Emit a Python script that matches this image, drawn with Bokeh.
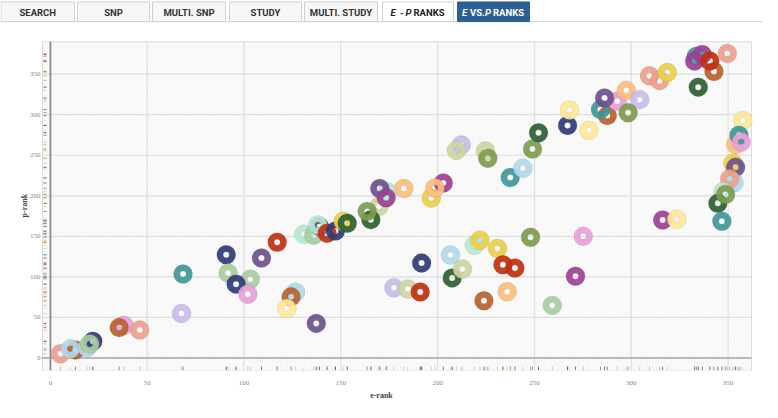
from bokeh.plotting import figure
from bokeh.models import FixedTicker, ColumnDataSource, Range1d
from bokeh.embed import file_html
from bokeh.resources import INLINE
from bokeh.core.properties import value
import math

# ---------------- data ----------------
palette = {
    "navy": "#2f3a7a", "teal": "#3d9898", "lavender": "#c8bce8", "lightgreen": "#a8cc9e",
    "pink": "#e8a0da", "salmon": "#eda08c", "brown": "#b9612b", "lightblue": "#afd8ec",
    "lightyellow": "#fde992", "gold": "#ebcf44", "purple": "#6e4f8e", "magenta": "#9c3f94",
    "red": "#c0300e", "darkgreen": "#2d5f30", "olive": "#7d9c4e", "khaki": "#cdd5a0",
    "mint": "#b4e8d0", "peach": "#fbbd7e",
}

e_rank = [5.2, 12.9, 10.3, 19, 21.9, 20.3, 37.9, 35.5, 46.1, 68.5, 67.7,
          90.8, 109, 103.2, 91.8, 95.9, 101.9, 117.1, 126.6, 124.3, 122.1, 137.3,
          130.9, 136, 139, 138.1, 142.9, 147.2, 151.2, 153.3, 169.6, 165.5, 163.6,
          173.9, 170.1, 173.4, 182.5, 177.4, 184.6, 191, 191.7, 196.7, 202.9, 198.6,
          206.6, 207.5, 212.8, 212.2, 209.7, 224.7, 225.9, 219, 221.8, 230.9, 233.7,
          239.9, 235.9, 223.9, 237.5, 244, 249, 252.1, 248, 259.2, 267.1, 268.1,
          278.1, 271.2, 275.2, 287.6, 284.1, 292.8, 286.2, 297.4, 304.4, 298.4,
          309.4, 314.6, 318.6, 316.2, 323.5, 333.6, 336.7, 332.7, 342.7, 340.6,
          349.6, 334.6, 357.6, 353.9, 355.6, 356.8, 352.5, 353.9, 353, 350.8,
          347.4, 344.7, 348.7, 346.8]
p_rank = [5.2, 10, 11.3, 13, 20.6, 17.3, 40.3, 37.5, 34.6, 103.6, 54.8,
          127.4, 123.4, 97.2, 104.8, 91.1, 78.6, 142.8, 81, 75.4, 61.2, 42.7,
          152.5, 151.6, 162, 164.1, 153.7, 156.5, 168.6, 166.1, 186.7, 170.6, 180.7,
          204.9, 208.9, 197.6, 208.9, 86.6, 85, 81.5, 117, 197.2, 215.8, 209.7,
          127, 98.8, 109.6, 262.6, 256, 255.3, 246.4, 139, 145.2, 135, 115,
          110.9, 81.8, 70.5, 222.5, 234, 257.7, 277.8, 148.8, 64.9, 286.8, 305.7,
          280.7, 100.8, 150, 298.9, 306.5, 316.6, 320.7, 329.9, 318.6, 302.5,
          348, 342, 352.1, 170.1, 171, 372.2, 374.3, 366.2, 353.3, 366.2,
          375.5, 334, 292.8, 263.3, 274.7, 266.2, 240, 235.1, 216, 221,
          204.9, 190.7, 201.6, 168.6]
point_color = ["salmon", "brown", "lightblue", "lightblue", "navy", "lightgreen", "pink", "brown", "salmon", "teal", "lavender",
               "navy", "purple", "lightgreen", "lightgreen", "navy", "pink", "red", "lightblue", "brown", "lightyellow", "purple",
               "mint", "lightgreen", "purple", "mint", "red", "navy", "gold", "darkgreen", "khaki", "darkgreen", "olive",
               "mint", "purple", "magenta", "peach", "lavender", "khaki", "red", "navy", "gold", "magenta", "peach",
               "lightblue", "darkgreen", "khaki", "lavender", "khaki", "khaki", "olive", "mint", "gold", "gold", "red",
               "red", "peach", "brown", "teal", "lightblue", "olive", "darkgreen", "olive", "lightgreen", "navy", "lightyellow",
               "lightyellow", "magenta", "pink", "brown", "teal", "pink", "purple", "peach", "lavender", "olive",
               "salmon", "salmon", "gold", "magenta", "lightyellow", "teal", "magenta", "magenta", "brown", "red",
               "salmon", "darkgreen", "lightyellow", "peach", "teal", "pink", "gold", "purple", "lightblue", "salmon",
               "mint", "darkgreen", "olive", "teal"]

x_ticks = [0, 50, 100, 150, 200, 250, 300, 350]
y_ticks = [0, 50, 100, 150, 200, 250, 300, 350]
y_tick_labels = [str(v) for v in y_ticks]

tab_labels = ["SEARCH", "SNP", "MULTI. SNP", "STUDY", "MULTI. STUDY"]

# ---------------- layout constants (picture pixels) ----------------
W, H = 762, 402
FRAME_BOTTOM_PAGE = 377
B = H - FRAME_BOTTOM_PAGE

# chart data window
X_LO, X_HI = -4.1, 362.1
Y_LO, Y_HI = -15.4, 390
px_per_x = (751 - 42) / (X_HI - X_LO)
px_per_y = (377 - 42) / (Y_HI - Y_LO)
xr = Range1d(X_LO - 42 / px_per_x, X_HI + (W - 751) / px_per_x)
yr = Range1d(Y_LO, Y_HI + 42 / px_per_y)

p = figure(width=W, height=H, x_range=xr, y_range=yr, y_axis_location=None,
           toolbar_location=None, output_backend="svg",
           min_border_left=0, min_border_right=0, min_border_top=0, min_border_bottom=B)
p.extra_x_ranges = {"px": Range1d(0, W)}
p.extra_y_ranges = {"px": Range1d(FRAME_BOTTOM_PAGE, 0)}
p.background_fill_color = "white"
p.border_fill_color = "white"
p.outline_line_color = None
p.grid.visible = False

# ---------------- tabs (picture-pixel coordinates) ----------------
tab_left = [0.5, 77, 152, 229, 304, 382, 457]
tab_right = [74, 149, 225, 301, 377, 453, 529]
TAB_TOP, TAB_BOT = 1.5, 21.5
p.segment(x0=0, y0=TAB_BOT, x1=W, y1=TAB_BOT, line_color="#d6d6d6", line_width=1,
          x_range_name="px", y_range_name="px")
fills = ["#f7f7f7"] * 5 + ["#ffffff", "#2d5f93"]
p.quad(left=tab_left, right=tab_right, bottom=[TAB_BOT] * 7, top=[TAB_TOP] * 7,
       fill_color=fills, line_color=["#d0d0d0"] * 6 + ["#2d5f93"], line_width=1,
       x_range_name="px", y_range_name="px")
centers = [(l + r) / 2 for l, r in zip(tab_left[:5], tab_right[:5])]
ty = (TAB_TOP + TAB_BOT) / 2 + 0.5
p.text(x=centers, y=[ty] * 5, text=tab_labels, text_align="center", text_baseline="middle",
       text_font=value("Roboto"), text_font_style="bold", text_font_size="9.5px", text_color="#333333",
       x_range_name="px", y_range_name="px")
parts6 = [("E", 390, "bold italic"), ("-", 399.5, "bold"), ("P", 405, "bold italic"), ("RANKS", 413, "bold")]
parts7 = [("E", 461.5, "bold italic"), ("VS.", 469.5, "bold"), ("P", 484.5, "bold italic"), ("RANKS", 492.5, "bold")]
for parts, col in ((parts6, "#222222"), (parts7, "#ffffff")):
    for txt, xx, st in parts:
        p.text(x=[xx], y=[ty], text=[txt], text_align="left", text_baseline="middle",
               text_font=value("Roboto"), text_font_style=st, text_font_size="9.5px", text_color=col,
               x_range_name="px", y_range_name="px")

# ---------------- chart background, grid, border ----------------
p.quad(left=X_LO, right=X_HI, bottom=Y_LO, top=Y_HI, fill_color="#fdfdfd", line_color=None,
       hatch_pattern="right_diagonal_line", hatch_color="#e4e4e4", hatch_scale=3,
       hatch_weight=0.6, hatch_alpha=0.5)
p.segment(x0=x_ticks, y0=[Y_LO] * len(x_ticks), x1=x_ticks, y1=[Y_HI] * len(x_ticks),
          line_color="#dedede", line_width=1.2)
p.segment(x0=[X_LO] * len(y_ticks), y0=y_ticks, x1=[X_HI] * len(y_ticks), y1=y_ticks,
          line_color="#dedede", line_width=1.2)
p.quad(left=X_LO, right=X_HI, bottom=Y_LO, top=Y_HI, fill_color=None, line_color="#dcdcdc", line_width=1)
p.segment(x0=[X_LO - 0.5], y0=[0], x1=[X_HI], y1=[0], line_color="#a8a8a8", line_width=1.6)
p.segment(x0=[0], y0=[Y_LO], x1=[0], y1=[Y_HI], line_color="#8c8c8c", line_width=1.8)

# y tick labels and y axis title
p.text(x=[X_LO - 1.0] * len(y_ticks), y=y_ticks, text=y_tick_labels, text_align="right",
       text_baseline="middle", text_font=value("Liberation Serif"), text_font_size="7px",
       text_color="#888888")
p.text(x=[23.5], y=[209], text=["p-rank"], angle=math.pi / 2, text_align="center",
       text_baseline="middle", text_font=value("Liberation Serif"), text_font_style="bold",
       text_font_size="8px", text_color="#444444", x_range_name="px", y_range_name="px")

# x axis (real axis below)
ax = p.xaxis
ax.axis_line_color = None
ax.major_tick_line_color = None
ax.minor_tick_line_color = None
ax.ticker = FixedTicker(ticks=x_ticks)
ax.major_label_text_font = "Liberation Serif"
ax.major_label_text_font_size = "7px"
ax.major_label_text_color = "#888888"
ax.major_label_standoff = 4
ax.axis_label = "e-rank"
ax.axis_label_text_font = "Liberation Serif"
ax.axis_label_text_font_size = "8px"
ax.axis_label_text_font_style = "bold"
ax.axis_label_text_color = "#444444"
ax.axis_label_standoff = 3

# ---------------- points and rugs ----------------
cols = [palette[c] for c in point_color]
src = ColumnDataSource(dict(e=e_rank, p=p_rank, c=cols))
p.segment(x0="e", y0=-10.6, x1="e", y1=-15.0, line_color="c", line_width=1, line_alpha=0.85, source=src)
p.segment(x0=-3.6, y0="p", x1=-2.0, y1="p", line_color="c", line_width=1, line_alpha=0.85, source=src)
p.annulus(x="e", y="p", inner_radius=3, outer_radius=9.5,
          inner_radius_units="screen", outer_radius_units="screen",
          fill_color="c", fill_alpha=0.92, line_color="#555555", line_alpha=0.18, line_width=0.6,
          source=src)

open("out.html", "w").write(file_html(p, INLINE))
